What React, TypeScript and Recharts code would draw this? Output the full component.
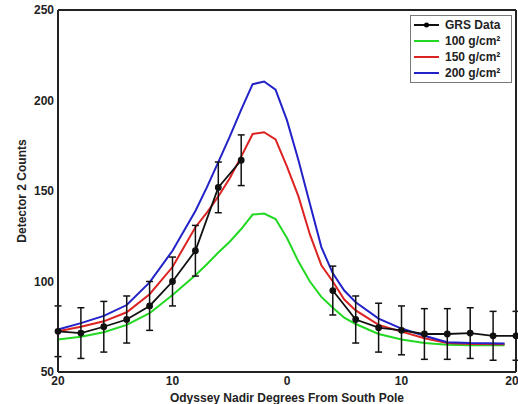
import React from "react";
import { ComposedChart, Line, XAxis, YAxis, ErrorBar, Legend } from "recharts";

// GRS measurements (degrees from south pole, counts, 1-sigma); no data near the pole
const grsDeg = [-20, -18, -16, -14, -12, -10, -8, -6, -4, 0, 4, 6, 8, 10, 12, 14, 16, 18, 20];
const grsCounts = [72.5, 71.5, 75, 79, 86.5, 100, 117, 152, 167, null, 95, 79, 74.5, 73, 71, 71, 71.5, 70, 70];
const grsErr = [14, 14, 14, 13, 13.5, 13.5, 14, 14, 14, null, 13.5, 13, 13.5, 13.5, 14, 14, 14, 13.5, 13.5];

// model curves
const modelDeg = [-20, -18, -16, -14, -12, -10, -8, -7, -6, -5, -4, -3, -2, -1, 0, 1, 2, 3, 4, 5, 6, 8, 10, 12, 14, 16, 19];
const counts100 = [68, 69.5, 72, 76, 82.5, 92.5, 103.5, 109.5, 116, 122, 129, 137, 137.5, 134.5, 124, 111, 100, 91.5, 85.5, 80, 76.5, 71, 68, 66, 65, 64.8, 64.8];
const counts150 = [72.5, 75, 78, 83, 93, 108, 130, 138, 147, 157, 169, 181.5, 182.5, 178.5, 163.5, 147, 126, 109, 100, 90, 84, 76, 72.3, 68.6, 66, 65.5, 65.3];
const counts200 = [73.5, 77, 81, 87, 99.5, 117, 139, 152, 166, 180, 195, 209, 210.5, 206, 189, 167, 143, 119, 104.5, 95, 88.5, 79.5, 74, 70, 66.5, 66, 65.8];

const xTicks = [-20, -15, -10, -5, 0, 5, 10, 15, 20];
const yTicks = [50, 100, 150, 200, 250];
const legendOrder = ["GRS Data", "100 g/cm²", "150 g/cm²", "200 g/cm²"];

const grsData = grsDeg.map((x, i) => ({ x, y: grsCounts[i], err: grsErr[i] }));
const toSeries = (vals: number[]) => modelDeg.map((x, i) => ({ x, y: vals[i] }));

const font = { fontSize: 12, fontWeight: "bold", fill: "#222" };
const frame = { stroke: "#222", strokeWidth: 2 };

function GrsLegend({ payload }: any) {
  const items = [...(payload ?? [])].sort(
    (a: any, b: any) => legendOrder.indexOf(a.value) - legendOrder.indexOf(b.value)
  );
  return (
    <div style={{ border: "1px solid #777", background: "#fff", width: 100, padding: "1px 0" }}>
      {items.map((it: any) => (
        <div key={it.value} style={{ display: "flex", alignItems: "center", height: 16 }}>
          <svg width={34} height={16}>
            <line x1={3} x2={28} y1={8} y2={8} stroke={it.color} strokeWidth={2} />
            {it.value === "GRS Data" && <circle cx={15.5} cy={8} r={2.5} fill="#000" />}
          </svg>
          <span style={{ fontSize: 12, fontWeight: "bold", color: "#222" }}>{it.value}</span>
        </div>
      ))}
    </div>
  );
}

export default function App() {
  return (
    <div style={{ position: "absolute", left: 0, top: 0, fontFamily: "'Liberation Sans', Arial, sans-serif", background: "#fff" }}>
      <ComposedChart width={518} height={404} margin={{ top: 10, right: 2, bottom: 0, left: 0 }}>
        <XAxis
          dataKey="x"
          type="number"
          domain={[-20, 20]}
          ticks={xTicks}
          tickFormatter={(v: number) => (v % 10 === 0 ? String(Math.abs(v)) : "")}
          tick={font}
          tickLine={false}
          tickSize={0}
          tickMargin={4}
          axisLine={frame}
          height={32}
          allowDuplicatedCategory={false}
          label={{ value: "Odyssey Nadir Degrees From South Pole", position: "insideBottom", offset: 2, style: font }}
        />
        <XAxis xAxisId="bt" dataKey="x" type="number" domain={[-20, 20]} ticks={xTicks} mirror orientation="bottom"
          tickFormatter={() => ""} axisLine={false} tickLine={frame} tickSize={5} />
        <XAxis xAxisId="top" dataKey="x" type="number" domain={[-20, 20]} ticks={xTicks} mirror orientation="top"
          tickFormatter={() => ""} axisLine={frame} tickLine={frame} tickSize={5} />
        <YAxis
          type="number"
          domain={[50, 250]}
          ticks={yTicks}
          tick={font}
          tickLine={false}
          tickSize={0}
          tickMargin={4}
          axisLine={frame}
          width={58}
          label={{ value: "Detector 2 Counts", angle: -90, position: "center", dx: -7, style: { ...font, textAnchor: "middle" } }}
        />
        <YAxis yAxisId="lt" type="number" domain={[50, 250]} ticks={yTicks} mirror orientation="left"
          tickFormatter={() => ""} axisLine={false} tickLine={frame} tickSize={5} />
        <YAxis yAxisId="rt" type="number" domain={[50, 250]} ticks={yTicks} mirror orientation="right"
          tickFormatter={() => ""} axisLine={frame} tickLine={frame} tickSize={5} />
        <Legend
          layout="vertical"
          align="center"
          verticalAlign="middle"
          content={<GrsLegend />}
          wrapperStyle={{ top: 15, left: 410, width: 102, height: 68 }}
        />
        <Line data={toSeries(counts100)} dataKey="y" name="100 g/cm²" stroke="#22d822" strokeWidth={2} dot={false} isAnimationActive={false} />
        <Line data={toSeries(counts150)} dataKey="y" name="150 g/cm²" stroke="#dd2222" strokeWidth={2} dot={false} isAnimationActive={false} />
        <Line data={toSeries(counts200)} dataKey="y" name="200 g/cm²" stroke="#2222c8" strokeWidth={2} dot={false} isAnimationActive={false} />
        <Line
          data={grsData}
          dataKey="y"
          name="GRS Data"
          stroke="#111"
          strokeWidth={1.8}
          connectNulls={false}
          dot={{ r: 2.5, fill: "#111", stroke: "#111" }}
          isAnimationActive={false}
        >
          <ErrorBar dataKey="err" direction="y" width={3.5} stroke="#111" strokeWidth={1.5} />
        </Line>
      </ComposedChart>
    </div>
  );
}
